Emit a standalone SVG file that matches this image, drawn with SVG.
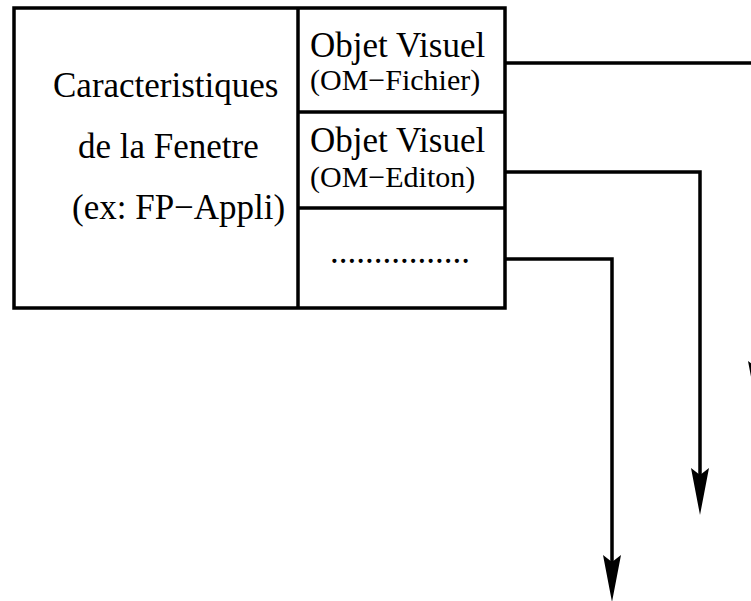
<svg xmlns="http://www.w3.org/2000/svg" width="751" height="601" viewBox="0 0 751 601">
<style>
.box{fill:none;stroke:#000;stroke-width:3.5}
.ln{fill:none;stroke:#000;stroke-width:3.5}
.big{font-family:"Liberation Serif","Times New Roman",serif;font-size:35px;fill:#000}
.sm{font-family:"Liberation Serif","Times New Roman",serif;font-size:30px;fill:#000}
</style>
<defs>
<marker id="ah" markerUnits="userSpaceOnUse" orient="auto" viewBox="0 -10 48 20" refX="7" refY="0" markerWidth="48" markerHeight="20">
<path d="M0,-9 L47,0 L0,9 L7,0 Z" fill="#000"/>
</marker>
</defs>
<rect x="0" y="0" width="751" height="601" fill="#fff"/>
<g id="fenetre">
<rect class="box" x="14" y="8" width="491" height="300"/>
<line class="box" x1="298" y1="8" x2="298" y2="308"/>
<text class="big" x="53" y="97">Caracteristiques</text>
<text class="big" x="78" y="158">de la Fenetre</text>
<text class="big" x="72" y="219">(ex: FP−Appli)</text>
</g>
<g id="objet1">
<text class="big" x="310" y="57">Objet Visuel</text>
<text class="sm" x="310" y="90">(OM−Fichier)</text>
</g>
<g id="objet2">
<line class="box" x1="298" y1="112" x2="505" y2="112"/>
<text class="big" x="310" y="152">Objet Visuel</text>
<text class="sm" x="310" y="187">(OM−Editon)</text>
</g>
<g id="objet3">
<line class="box" x1="298" y1="208" x2="505" y2="208"/>
<text class="big" x="330" y="263">................</text>
</g>
<g id="connectors">
<polyline class="ln" points="505,63 757,63 757,368" marker-end="url(#ah)"/>
<polyline class="ln" points="505,172 700,172 700,475" marker-end="url(#ah)"/>
<polyline class="ln" points="505,259 612,259 612,562" marker-end="url(#ah)"/>
</g>
</svg>
